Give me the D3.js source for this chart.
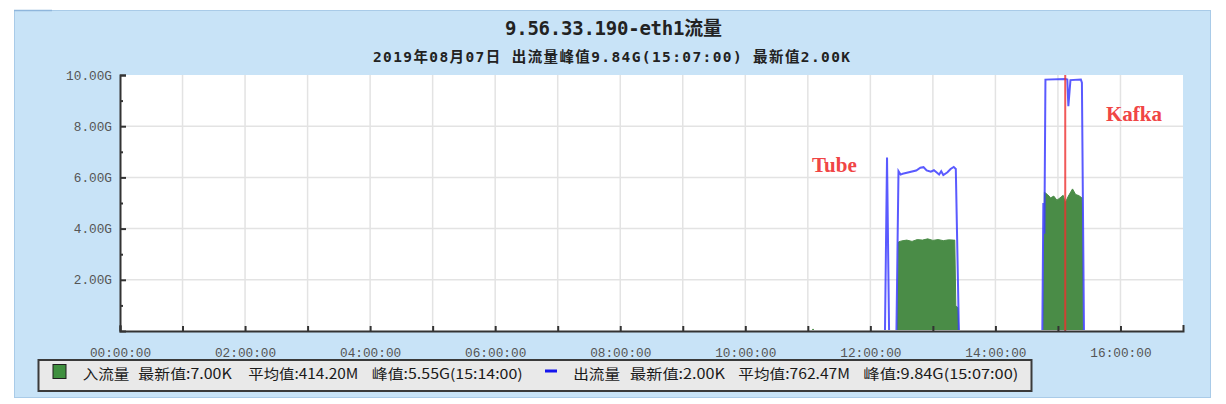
<!DOCTYPE html>
<html><head><meta charset="utf-8">
<script src="https://cdn.jsdelivr.net/npm/d3@7"></script>
<style>body{margin:0;background:#fff}svg{display:block}</style>
</head><body>
<svg id="c" width="1226" height="404"></svg>
<script>
// ---- data ----
const titleText = "9.56.33.190-eth1流量";
const subtitleText = "2019年08月07日 出流量峰值9.84G(15:07:00) 最新值2.00K";
const xTickHours = [0, 2, 4, 6, 8, 10, 12, 14, 16];
const xTickLabels = ["00:00:00", "02:00:00", "04:00:00", "06:00:00", "08:00:00", "10:00:00", "12:00:00", "14:00:00", "16:00:00"];
const yTickValues = [2, 4, 6, 8, 10];
const yTickLabels = ["2.00G", "4.00G", "6.00G", "8.00G", "10.00G"];

// outbound (出流量), GB/s
const outTime = ["00:00","12:14","12:16","12:18","12:25","12:27","12:29","12:31","12:35","12:39","12:44","12:48","12:51","12:54","12:58","13:01","13:04","13:06","13:08","13:10","13:14","13:17","13:20","13:22","13:25","14:45","14:46","14:47","14:48","15:07","15:09","15:10","15:12","15:22","15:23","15:25","15:40"];
const outValue = [0,0,6.78,0,0,6.24,6.11,6.14,6.18,6.22,6.27,6.38,6.40,6.27,6.22,6.28,6.18,6.11,6.24,6.09,6.20,6.33,6.41,6.33,0,0,5.0,3.8,9.82,9.84,9.82,8.78,9.80,9.82,9.70,0,0];

// inbound (入流量), GB/s
const inTime = ["00:00","11:04","11:05","11:06","12:26","12:27","12:30","12:35","12:40","12:45","12:50","12:55","13:00","13:05","13:10","13:15","13:20","13:21","13:22","13:24","13:25","14:46","14:47","14:50","14:53","14:56","14:59","15:02","15:05","15:07","15:10","15:14","15:17","15:20","15:23","15:24","15:40"];
const inValue = [0,0,0.08,0,0,3.48,3.52,3.55,3.50,3.57,3.55,3.60,3.54,3.57,3.53,3.56,3.55,3.55,1.0,0.9,0,0,5.42,5.33,5.20,5.27,5.11,5.20,5.30,5.01,5.27,5.55,5.33,5.29,5.20,0,0];

const peakTime = "15:07";
const annotationText = ["Tube", "Kafka"];
const annotationTime = ["11:04", "15:46"];
const annotationValue = [6.23, 8.22];

const legendIn = ["入流量", "最新值:7.00K", "平均值:414.20M", "峰值:5.55G(15:14:00)"];
const legendOut = ["出流量", "最新值:2.00K", "平均值:762.47M", "峰值:9.84G(15:07:00)"];

// ---- drawing ----
const toH = s => { const [h, m] = s.split(":").map(Number); return h + m / 60; };
const svg = d3.select("#c");
const x = d3.scaleLinear().domain([0, 17]).range([120, 1183]);
const y = d3.scaleLinear().domain([0, 10]).range([331, 75]);

// panel
svg.append("rect").attr("x", 14.5).attr("y", 10.5).attr("width", 1196).attr("height", 387)
  .attr("fill", "#c8e3f7").attr("stroke", "#a9cbe8").attr("stroke-width", 1);
svg.append("line").attr("x1", 14).attr("x2", 52).attr("y1", 10.5).attr("y2", 10.5).attr("stroke", "#8fb6dc").attr("stroke-width", 1.5);

// plot background
svg.append("rect").attr("x", x(0)).attr("y", y(10)).attr("width", x(17) - x(0)).attr("height", y(0) - y(10)).attr("fill", "#fff");

svg.append("clipPath").attr("id", "plotclip").append("rect")
  .attr("x", x(0)).attr("y", y(10) - 3).attr("width", x(17) - x(0)).attr("height", y(0) - y(10) + 2);

// grid
const grid = svg.append("g").attr("stroke", "#e3e3e3").attr("stroke-width", 1.5);
grid.selectAll(".v").data(d3.range(1, 17)).join("line")
  .attr("x1", d => x(d)).attr("x2", d => x(d)).attr("y1", y(10)).attr("y2", y(0));
grid.selectAll(".h").data([2, 4, 6, 8]).join("line")
  .attr("x1", x(0)).attr("x2", x(17)).attr("y1", d => y(d)).attr("y2", d => y(d));

const dataG = svg.append("g").attr("clip-path", "url(#plotclip)");
// inbound area
const inData = inTime.map((t, i) => ({ h: toH(t), v: inValue[i] }));
dataG.append("path").datum(inData)
  .attr("d", d3.area().x(d => x(d.h)).y0(y(0) + 2).y1(d => y(d.v)))
  .attr("fill", "#4a8c47").attr("stroke", "#4a8c47").attr("stroke-width", 1);

// outbound line
const outData = outTime.map((t, i) => ({ h: toH(t), v: outValue[i] }));
dataG.append("path").datum(outData)
  .attr("d", d3.line().x(d => x(d.h)).y(d => d.v === 0 ? y(0) + 3 : y(d.v)))
  .attr("fill", "none").attr("stroke", "#3d3dff").attr("stroke-width", 2).attr("stroke-opacity", 0.85);

// peak marker
svg.append("line").attr("x1", x(toH(peakTime))).attr("x2", x(toH(peakTime)))
  .attr("y1", y(10)).attr("y2", y(0)).attr("stroke", "#ee3030").attr("stroke-opacity", 0.8).attr("stroke-width", 2);

// axes
const tickFont = "'Liberation Mono', 'DejaVu Sans Mono', monospace";
svg.append("g").attr("transform", `translate(${x(0)},0)`)
  .call(d3.axisLeft(y).tickValues(yTickValues).tickFormat((d, i) => yTickLabels[i]).tickSizeInner(-6).tickSizeOuter(-6).tickPadding(8));
svg.append("g").attr("transform", `translate(${x(0)},0)`)
  .call(d3.axisLeft(y).tickValues([1, 3, 5, 7, 9]).tickFormat("").tickSize(-3)).call(g => g.select(".domain").remove());
svg.append("g").attr("transform", `translate(0,${y(0)})`)
  .call(d3.axisBottom(x).tickValues(xTickHours).tickFormat((d, i) => xTickLabels[i]).tickSizeInner(-5).tickSizeOuter(-6).tickPadding(17));
svg.append("g").attr("transform", `translate(0,${y(0)})`)
  .call(d3.axisBottom(x).tickValues([1, 3, 5, 7, 9, 11, 13, 15]).tickFormat("").tickSize(-5)).call(g => g.select(".domain").remove());
svg.selectAll(".domain, .tick line").attr("stroke", "#333").attr("stroke-width", 2);
svg.selectAll(".tick text").attr("font-family", tickFont).attr("font-size", "12.75px").attr("fill", "#555");

// annotations
svg.selectAll(".ann").data(annotationText).join("text")
  .attr("x", (d, i) => x(toH(annotationTime[i]))).attr("y", (d, i) => y(annotationValue[i]))
  .attr("font-family", "'Liberation Serif', 'DejaVu Serif', serif").attr("font-weight", "bold")
  .attr("font-size", "21px").attr("fill", "#f04545").text(d => d);

// title
svg.append("text").attr("x", 505).attr("y", 34.5).attr("textLength", 217).attr("lengthAdjust", "spacing")
  .attr("font-family", "'DejaVu Sans Mono', 'Noto Sans CJK SC', monospace").attr("font-weight", "bold")
  .attr("font-size", "19px").attr("fill", "#222").text(titleText);
svg.append("text").attr("x", 373).attr("y", 62).attr("textLength", 477).attr("lengthAdjust", "spacing")
  .attr("font-family", "'DejaVu Sans Mono', 'Noto Sans CJK SC', monospace").attr("font-weight", "bold")
  .attr("font-size", "14.5px").attr("fill", "#222").text(subtitleText);

// legend
svg.append("rect").attr("x", 38.5).attr("y", 360).attr("width", 993).attr("height", 31)
  .attr("fill", "#e9e9e9").attr("stroke", "#3a3a3a").attr("stroke-width", 2);
svg.append("rect").attr("x", 53).attr("y", 364.5).attr("width", 13).attr("height", 14)
  .attr("fill", "#3f8f3f").attr("stroke", "#1e1e1e").attr("stroke-width", 1);
svg.append("rect").attr("x", 545).attr("y", 369.5).attr("width", 12).attr("height", 3).attr("fill", "#1414ee");
const legFont = "'Noto Sans CJK SC', sans-serif";
const inPos = [[82.7, 46.6], [138.3, 93.4], [248.3, 110], [371.7, 151]];
const outPos = [[573.3, 46.7], [630, 95], [738.3, 111.7], [863.3, 155]];
const drawLeg = (items, pos) => items.forEach((t, i) => {
  svg.append("text").attr("x", pos[i][0]).attr("y", 378.5).attr("textLength", pos[i][1]).attr("lengthAdjust", "spacingAndGlyphs")
    .attr("font-family", legFont).attr("font-size", "14px").attr("fill", "#1a1a1a").text(t);
});
drawLeg(legendIn, inPos);
drawLeg(legendOut, outPos);
</script>
</body></html>
